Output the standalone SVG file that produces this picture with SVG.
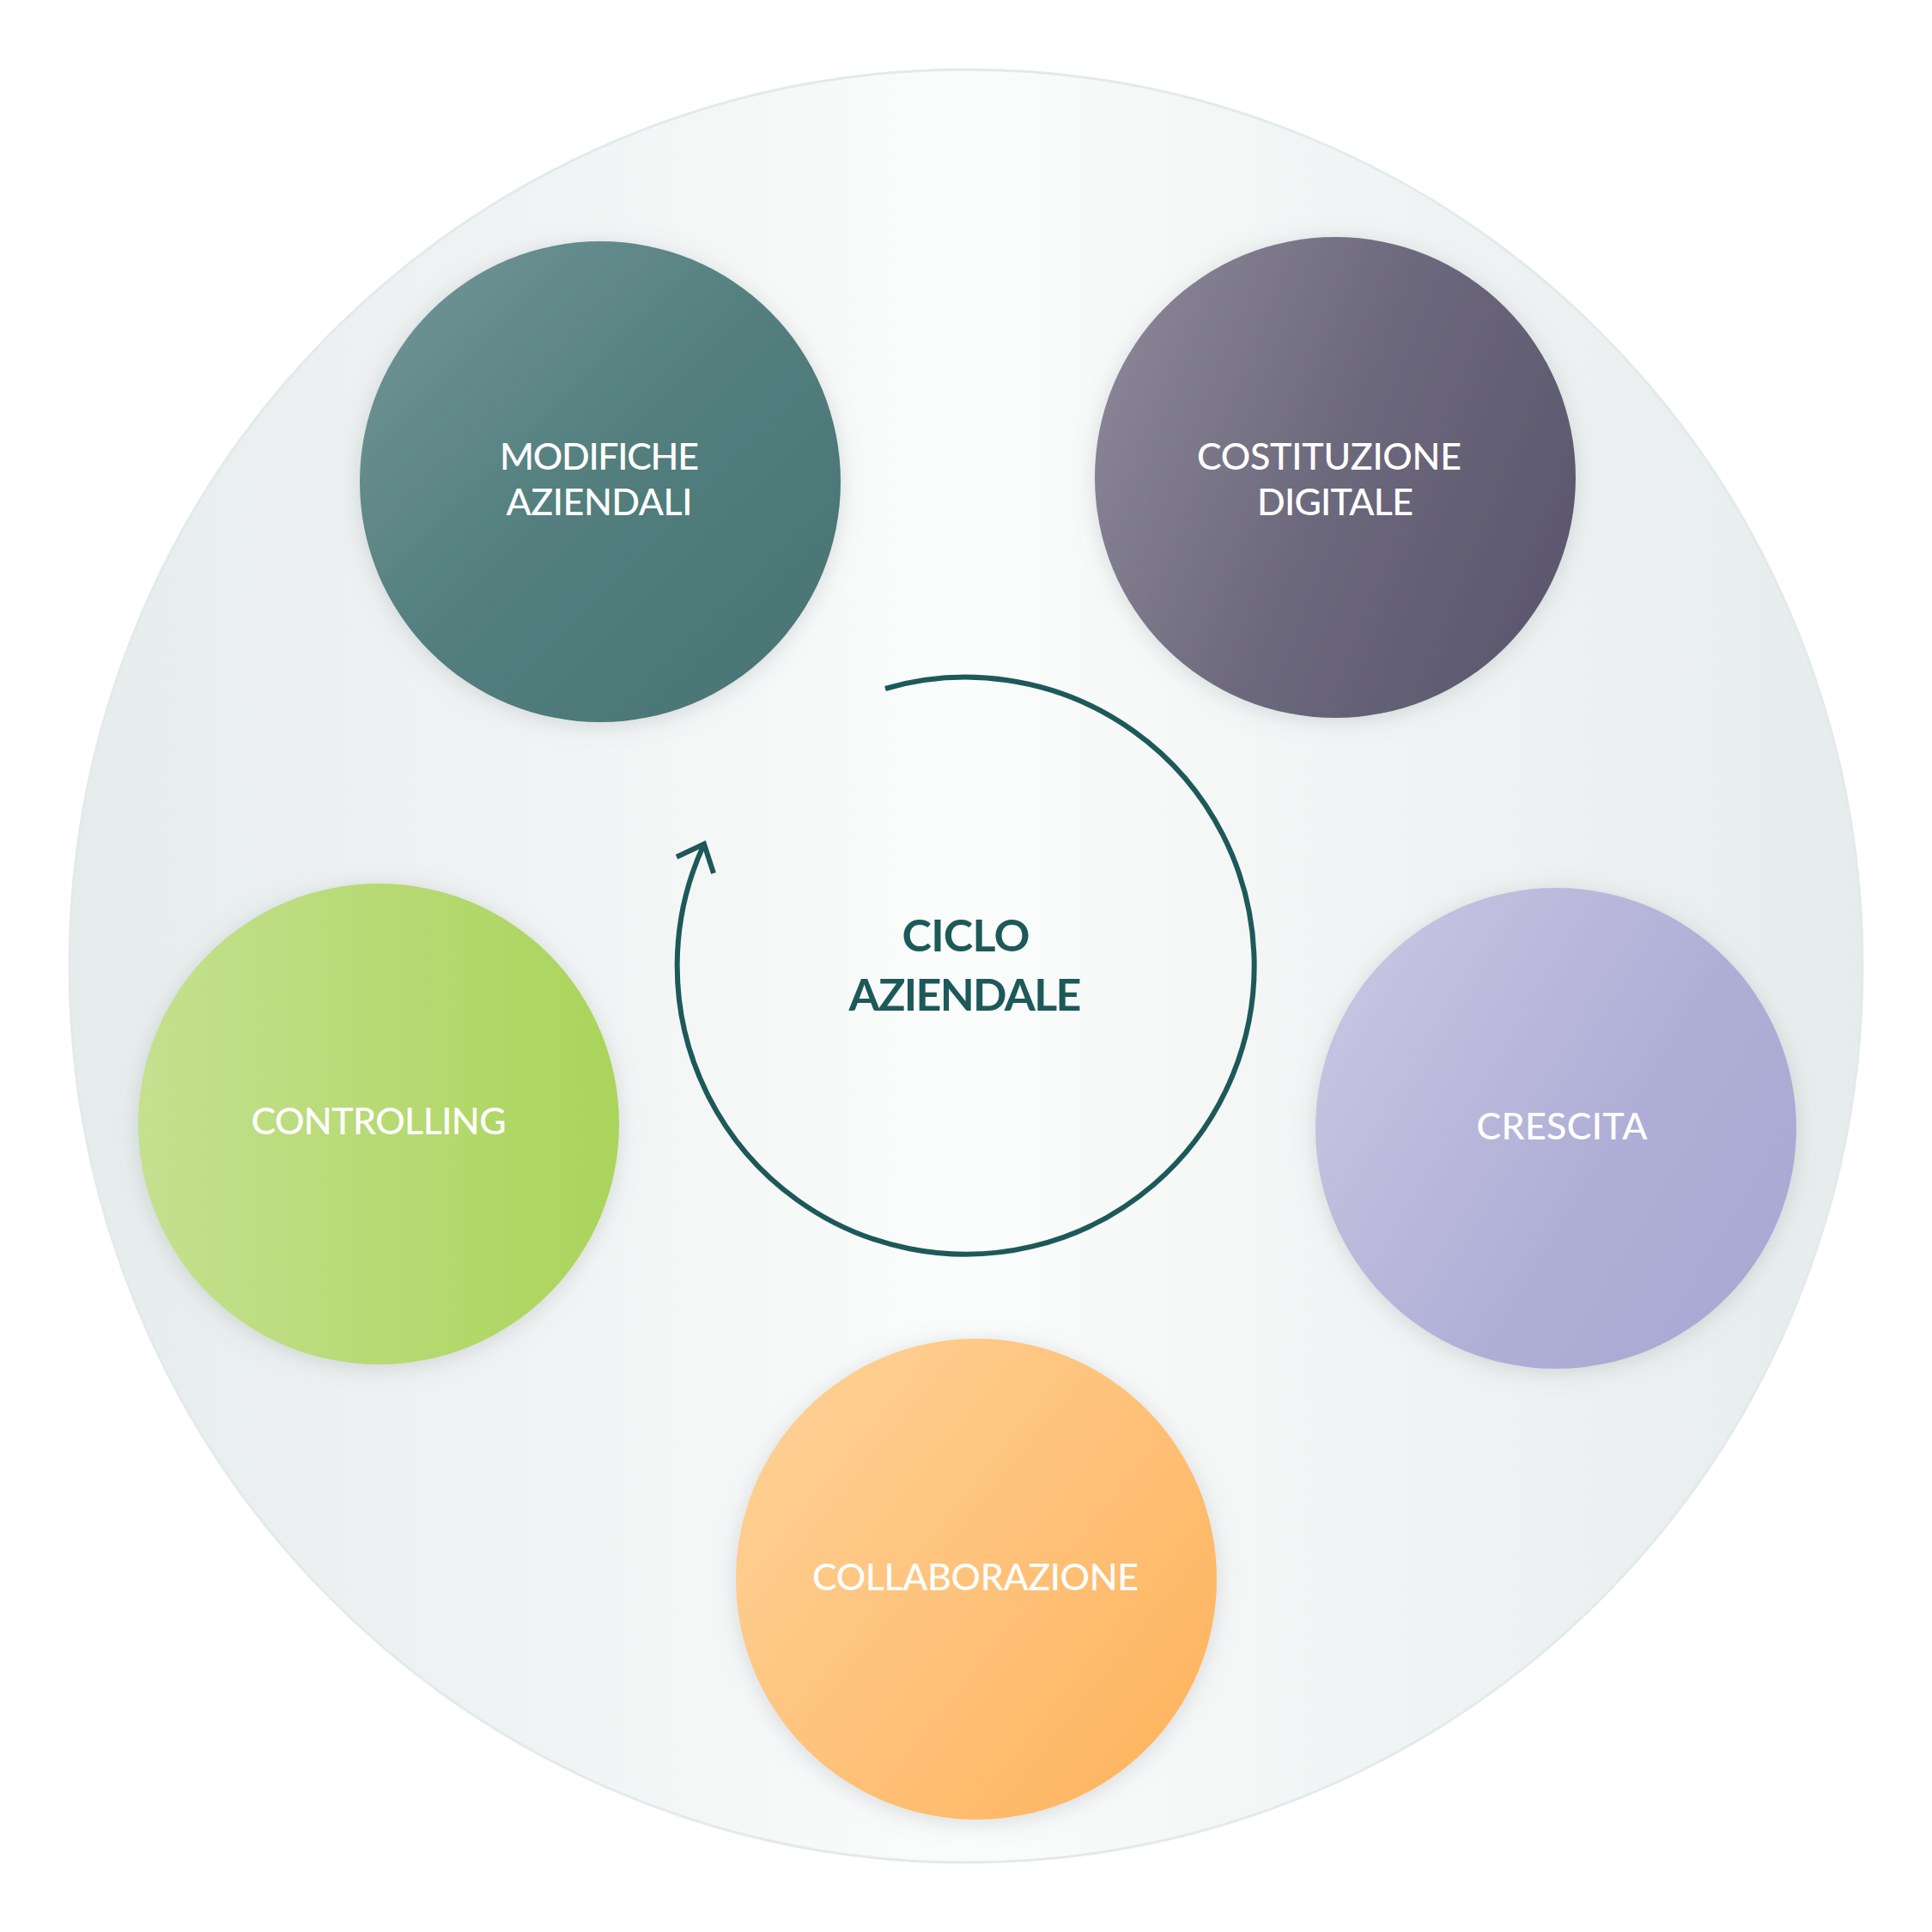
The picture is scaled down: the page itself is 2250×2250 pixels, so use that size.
<svg xmlns="http://www.w3.org/2000/svg" width="2250" height="2250" viewBox="0 0 2250 2250">
<defs>
<style>
.node-label{font-family:Lato,"Open Sans","Liberation Sans",sans-serif;font-size:43px;font-weight:500;fill:#ffffff;text-anchor:middle}
.center-label{font-family:Lato,"Open Sans","Liberation Sans",sans-serif;font-size:52px;font-weight:700;fill:#1e5959;text-anchor:middle}
.cycle{fill:none;stroke:#1e5959;stroke-width:6}
</style>
<linearGradient id="bg" x1="81" y1="0" x2="2169" y2="0" gradientUnits="userSpaceOnUse">
<stop offset="0" stop-color="#e6ecec"/>
<stop offset="0.22" stop-color="#eff2f2"/>
<stop offset="0.5" stop-color="#fbfcfc"/>
<stop offset="0.78" stop-color="#eff2f2"/>
<stop offset="1" stop-color="#e6ecec"/>
</linearGradient>
<linearGradient id="gTeal" x1="0" y1="0" x2="1" y2="1">
<stop offset="0" stop-color="#74979a"/>
<stop offset="0.5" stop-color="#527e7d"/>
<stop offset="1" stop-color="#487373"/>
</linearGradient>
<linearGradient id="gPurple" x1="0" y1="0.3" x2="1" y2="0.7">
<stop offset="0" stop-color="#898596"/>
<stop offset="0.5" stop-color="#6c687c"/>
<stop offset="1" stop-color="#5b576d"/>
</linearGradient>
<linearGradient id="gGreen" x1="0" y1="0" x2="1" y2="0">
<stop offset="0" stop-color="#c5e08f"/>
<stop offset="1" stop-color="#aad45a"/>
</linearGradient>
<linearGradient id="gLav" x1="0" y1="0.2" x2="1" y2="0.8">
<stop offset="0" stop-color="#c7c6e2"/>
<stop offset="0.6" stop-color="#afaed6"/>
<stop offset="1" stop-color="#a8a8d3"/>
</linearGradient>
<linearGradient id="gOrange" x1="0" y1="0.1" x2="1" y2="0.9">
<stop offset="0" stop-color="#fed297"/>
<stop offset="0.5" stop-color="#fec27a"/>
<stop offset="1" stop-color="#feb35c"/>
</linearGradient>
<filter id="shadow" x="-20%" y="-20%" width="140%" height="140%">
<feDropShadow dx="0" dy="4" stdDeviation="13" flood-color="#7f8a8a" flood-opacity="0.28"/>
</filter>
</defs>
<rect width="2250" height="2250" fill="#ffffff"/>
<g id="background">
<circle cx="1125" cy="1125" r="1044" fill="url(#bg)" stroke="#e3eaea" stroke-width="3"/>
</g>
<g id="connectors">
<path class="cycle" d="M 1031 802 A 336 336 0 1 1 820 983"/>
<polyline class="cycle" points="788,998 820,983 831,1017"/>
</g>
<g id="node-center">
<text class="center-label" x="1125" y="1108" textLength="149">CICLO</text>
<text class="center-label" x="1124" y="1177" textLength="271">AZIENDALE</text>
</g>
<g id="node-modifiche">
<circle cx="699" cy="561" r="280" fill="url(#gTeal)" filter="url(#shadow)"/>
<text class="node-label" x="698" y="547" textLength="232">MODIFICHE</text>
<text class="node-label" x="698" y="600" textLength="217">AZIENDALI</text>
</g>
<g id="node-costituzione">
<circle cx="1555" cy="556" r="280" fill="url(#gPurple)" filter="url(#shadow)"/>
<text class="node-label" x="1548" y="547" textLength="308">COSTITUZIONE</text>
<text class="node-label" x="1555" y="600" textLength="182">DIGITALE</text>
</g>
<g id="node-controlling">
<circle cx="441" cy="1309" r="280" fill="url(#gGreen)" filter="url(#shadow)"/>
<text class="node-label" x="441" y="1321" textLength="297">CONTROLLING</text>
</g>
<g id="node-crescita">
<circle cx="1812" cy="1314" r="280" fill="url(#gLav)" filter="url(#shadow)"/>
<text class="node-label" x="1819" y="1327" textLength="199">CRESCITA</text>
</g>
<g id="node-collaborazione">
<circle cx="1137" cy="1839" r="280" fill="url(#gOrange)" filter="url(#shadow)"/>
<text class="node-label" x="1136" y="1852" textLength="380">COLLABORAZIONE</text>
</g>
</svg>
